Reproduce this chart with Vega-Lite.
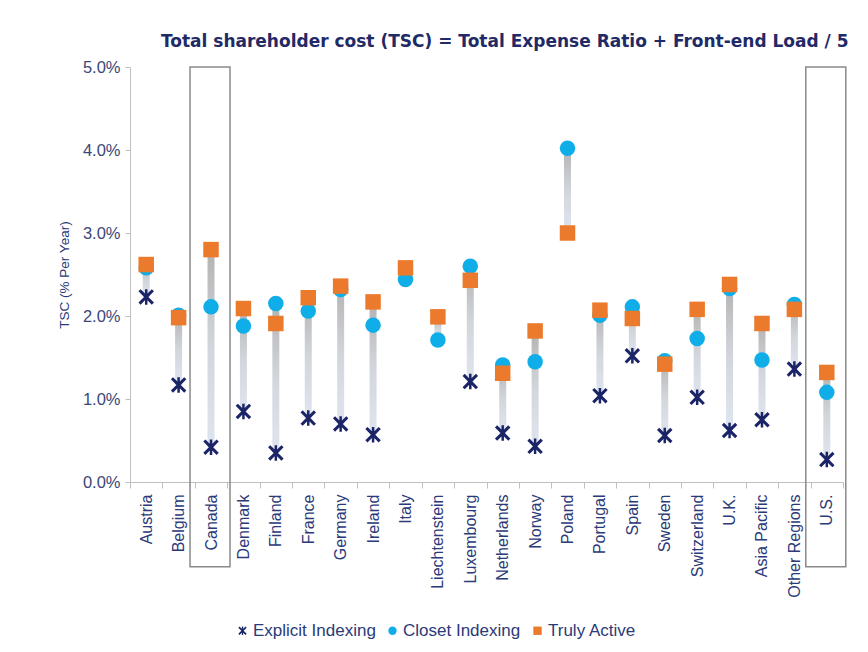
{
  "$schema": "https://vega.github.io/schema/vega-lite/v6.json",
  "autosize": {"type": "none"},
  "width": 713,
  "height": 415,
  "padding": {"left": 130, "top": 67, "right": 25, "bottom": 170},
  "background": "white",
  "title": {
    "text": "Total shareholder cost (TSC) = Total Expense Ratio + Front-end Load / 5",
    "anchor": "end",
    "font": "DejaVu Sans",
    "fontSize": 17,
    "fontWeight": "bold",
    "color": "#1f2a66",
    "offset": 8,
    "dx": 2
  },
  "config": {
    "view": {"stroke": null},
    "font": "Liberation Sans"
  },
  "datasets": {
    "tsc": [
      {"country": "Austria", "type": "Explicit Indexing", "value": 2.23},
      {"country": "Belgium", "type": "Explicit Indexing", "value": 1.17},
      {"country": "Canada", "type": "Explicit Indexing", "value": 0.42},
      {"country": "Denmark", "type": "Explicit Indexing", "value": 0.85},
      {"country": "Finland", "type": "Explicit Indexing", "value": 0.35},
      {"country": "France", "type": "Explicit Indexing", "value": 0.77},
      {"country": "Germany", "type": "Explicit Indexing", "value": 0.70},
      {"country": "Ireland", "type": "Explicit Indexing", "value": 0.57},
      {"country": "Luxembourg", "type": "Explicit Indexing", "value": 1.21},
      {"country": "Netherlands", "type": "Explicit Indexing", "value": 0.59},
      {"country": "Norway", "type": "Explicit Indexing", "value": 0.43},
      {"country": "Portugal", "type": "Explicit Indexing", "value": 1.04},
      {"country": "Spain", "type": "Explicit Indexing", "value": 1.52},
      {"country": "Sweden", "type": "Explicit Indexing", "value": 0.56},
      {"country": "Switzerland", "type": "Explicit Indexing", "value": 1.02},
      {"country": "U.K.", "type": "Explicit Indexing", "value": 0.62},
      {"country": "Asia Pacific", "type": "Explicit Indexing", "value": 0.75},
      {"country": "Other Regions", "type": "Explicit Indexing", "value": 1.36},
      {"country": "U.S.", "type": "Explicit Indexing", "value": 0.27},
      {"country": "Austria", "type": "Closet Indexing", "value": 2.58},
      {"country": "Belgium", "type": "Closet Indexing", "value": 2.01},
      {"country": "Canada", "type": "Closet Indexing", "value": 2.11},
      {"country": "Denmark", "type": "Closet Indexing", "value": 1.88},
      {"country": "Finland", "type": "Closet Indexing", "value": 2.15},
      {"country": "France", "type": "Closet Indexing", "value": 2.06},
      {"country": "Germany", "type": "Closet Indexing", "value": 2.32},
      {"country": "Ireland", "type": "Closet Indexing", "value": 1.89},
      {"country": "Italy", "type": "Closet Indexing", "value": 2.44},
      {"country": "Liechtenstein", "type": "Closet Indexing", "value": 1.71},
      {"country": "Luxembourg", "type": "Closet Indexing", "value": 2.60},
      {"country": "Netherlands", "type": "Closet Indexing", "value": 1.41},
      {"country": "Norway", "type": "Closet Indexing", "value": 1.45},
      {"country": "Poland", "type": "Closet Indexing", "value": 4.02},
      {"country": "Portugal", "type": "Closet Indexing", "value": 2.01},
      {"country": "Spain", "type": "Closet Indexing", "value": 2.11},
      {"country": "Sweden", "type": "Closet Indexing", "value": 1.46},
      {"country": "Switzerland", "type": "Closet Indexing", "value": 1.73},
      {"country": "U.K.", "type": "Closet Indexing", "value": 2.33},
      {"country": "Asia Pacific", "type": "Closet Indexing", "value": 1.47},
      {"country": "Other Regions", "type": "Closet Indexing", "value": 2.14},
      {"country": "U.S.", "type": "Closet Indexing", "value": 1.08},
      {"country": "Austria", "type": "Truly Active", "value": 2.62},
      {"country": "Belgium", "type": "Truly Active", "value": 1.98},
      {"country": "Canada", "type": "Truly Active", "value": 2.80},
      {"country": "Denmark", "type": "Truly Active", "value": 2.09},
      {"country": "Finland", "type": "Truly Active", "value": 1.91},
      {"country": "France", "type": "Truly Active", "value": 2.22},
      {"country": "Germany", "type": "Truly Active", "value": 2.36},
      {"country": "Ireland", "type": "Truly Active", "value": 2.17},
      {"country": "Italy", "type": "Truly Active", "value": 2.58},
      {"country": "Liechtenstein", "type": "Truly Active", "value": 1.99},
      {"country": "Luxembourg", "type": "Truly Active", "value": 2.43},
      {"country": "Netherlands", "type": "Truly Active", "value": 1.31},
      {"country": "Norway", "type": "Truly Active", "value": 1.82},
      {"country": "Poland", "type": "Truly Active", "value": 3.00},
      {"country": "Portugal", "type": "Truly Active", "value": 2.07},
      {"country": "Spain", "type": "Truly Active", "value": 1.97},
      {"country": "Sweden", "type": "Truly Active", "value": 1.42},
      {"country": "Switzerland", "type": "Truly Active", "value": 2.08},
      {"country": "U.K.", "type": "Truly Active", "value": 2.38},
      {"country": "Asia Pacific", "type": "Truly Active", "value": 1.91},
      {"country": "Other Regions", "type": "Truly Active", "value": 2.08},
      {"country": "U.S.", "type": "Truly Active", "value": 1.32}
    ],
    "boxes": [
      {"country": "Canada"},
      {"country": "U.S."}
    ]
  },
  "encoding": {
    "x": {
      "field": "country",
      "type": "nominal",
      "sort": ["Austria","Belgium","Canada","Denmark","Finland","France","Germany","Ireland","Italy","Liechtenstein","Luxembourg","Netherlands","Norway","Poland","Portugal","Spain","Sweden","Switzerland","U.K.","Asia Pacific","Other Regions","U.S."],
      "scale": {"paddingInner": 0, "paddingOuter": 0},
      "axis": {
        "title": null,
        "labelAngle": -90,
        "labelFontSize": 16,
        "labelColor": "#2b3a78",
        "labelPadding": 6,
        "tickBand": "extent",
        "tickSize": 6,
        "tickColor": "#bfbfbf",
        "domainColor": "#bfbfbf",
        "grid": false
      }
    }
  },
  "layer": [
    {
      "data": {"name": "boxes"},
      "mark": {"type": "bar", "width": 40, "xOffset": -1, "fillOpacity": 0, "stroke": "#8a8a8a", "strokeWidth": 1.5, "clip": false},
      "encoding": {
        "y": {"datum": 5, "type": "quantitative", "scale": {"domain": [0, 5], "nice": false, "zero": false},
          "axis": {
            "title": "TSC (% Per Year)",
            "titleFontSize": 13.5,
            "titleFontWeight": "normal",
            "titleColor": "#2b3a78",
            "titlePadding": 11,
            "values": [0, 1, 2, 3, 4, 5],
            "labelExpr": "format(datum.value/100, '.1%')",
            "labelFontSize": 16.5,
            "labelColor": "#3a4778",
            "labelPadding": 5,
            "tickColor": "#bfbfbf",
            "tickSize": 5,
            "domainColor": "#bfbfbf",
            "gridColor": "#dedede"
          }
        },
        "y2": {"datum": -1.02}
      }
    },
    {
      "data": {"name": "tsc"},
      "mark": {
        "type": "bar",
        "width": 7,
        "color": {
          "gradient": "linear",
          "x1": 0, "y1": 0, "x2": 0, "y2": 1,
          "stops": [
            {"offset": 0, "color": "#b3b3b3"},
            {"offset": 0.5, "color": "#d2d6dc"},
            {"offset": 1, "color": "#dfe5f0"}
          ]
        }
      },
      "encoding": {
        "y": {"aggregate": "min", "field": "value", "type": "quantitative"},
        "y2": {"aggregate": "max", "field": "value"}
      }
    },
    {
      "data": {"name": "tsc"},
      "mark": {"type": "point", "filled": true, "opacity": 1, "size": 240},
      "encoding": {
        "y": {"field": "value", "type": "quantitative"},
        "color": {
          "field": "type", "type": "nominal",
          "scale": {"domain": ["Explicit Indexing", "Closet Indexing", "Truly Active"], "range": ["#1b2466", "#10aee8", "#ec7a2c"]},
          "legend": {
            "title": null,
            "orient": "none",
            "direction": "horizontal",
            "legendX": 104,
            "legendY": 555,
            "labelFontSize": 17,
            "labelColor": "#2b3a78",
            "symbolSize": 70,
            "labelOffset": 2,
            "columnPadding": 8
          }
        },
        "shape": {
          "field": "type", "type": "nominal",
          "scale": {"domain": ["Explicit Indexing", "Closet Indexing", "Truly Active"], "range": ["M-1,-0.72L-0.72,-1L0,-0.28L0.72,-1L1,-0.72L0.28,0L1,0.72L0.72,1L0,0.28L-0.72,1L-1,0.72L-0.28,0Z M-0.16,-1H0.16V1H-0.16Z", "circle", "square"]},
          "legend": null
        }
      }
    }
  ]
}
